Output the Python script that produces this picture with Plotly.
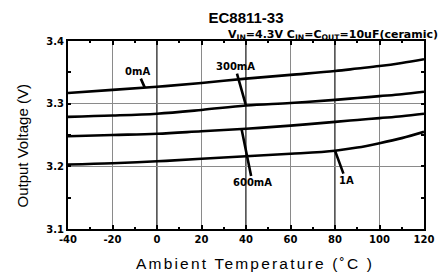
import plotly.graph_objects as go

temps = [-40, -20, 0, 20, 40, 60, 80, 90, 100, 110, 120]
v_0mA = [3.317, 3.322, 3.327, 3.333, 3.340, 3.346, 3.352, 3.356, 3.360, 3.365, 3.371]
v_300mA = [3.279, 3.281, 3.284, 3.290, 3.297, 3.301, 3.306, 3.309, 3.312, 3.315, 3.319]
v_600mA = [3.248, 3.250, 3.252, 3.256, 3.260, 3.265, 3.271, 3.274, 3.277, 3.280, 3.284]
v_1A = [3.203, 3.205, 3.208, 3.212, 3.216, 3.220, 3.225, 3.230, 3.237, 3.245, 3.255]

x_tickvals = [-40, -20, 0, 20, 40, 60, 80, 100, 120]
x_ticktext = ["-40", "-20", "0", "20", "40", "60", "80", "100", "120"]

series = [("0mA", v_0mA), ("300mA", v_300mA), ("600mA", v_600mA), ("1A", v_1A)]

# series name, temperature the arrow touches, label offset (px) of the text
labels = [
    ("0mA", -5.5, -7, -16),
    ("300mA", 40, -11, -39),
    ("600mA", 38, 11, 54),
    ("1A", 80, 11, 30),
]

fig = go.Figure()
for name, vals in series:
    fig.add_trace(go.Scatter(x=temps, y=vals, mode="lines", name=name,
                             line=dict(color="black", width=2.6, shape="spline"),
                             showlegend=False))

def interp(xs, ys, x):
    for i in range(len(xs) - 1):
        if xs[i] <= x <= xs[i + 1]:
            t = (x - xs[i]) / (xs[i + 1] - xs[i])
            return ys[i] + t * (ys[i + 1] - ys[i])
    return ys[-1]

font = "Liberation Sans, Arial, sans-serif"
bold_font = "DejaVu Sans, sans-serif"
lookup = dict(series)
for name, tx, ax, ay in labels:
    ty = interp(temps, lookup[name], tx)
    fig.add_annotation(x=tx, y=ty, ax=ax, ay=ay, text="<b>" + name + "</b>", showarrow=True,
                       arrowhead=0, arrowwidth=2.6, arrowcolor="black", standoff=0,
                       font=dict(family=bold_font, size=10, color="black"))

# darker vertical gridlines
for gx in [0, 40, 80]:
    fig.add_shape(type="line", x0=gx, x1=gx, y0=3.1, y1=3.4, xref="x", yref="y",
                  line=dict(color="black", width=1.3), layer="below")

fig.update_layout(
    width=445, height=275,
    margin=dict(l=68, r=11, t=41, b=46),
    paper_bgcolor="white", plot_bgcolor="white",
    font=dict(family=font, color="black"),
    title=dict(text="<b>EC8811-33</b>", xref="paper", x=0.5, xanchor="center",
               yref="container", y=0.935, yanchor="middle",
               font=dict(size=15, family=font, color="black")),
    xaxis=dict(range=[-40, 120], tickvals=x_tickvals, ticktext=x_ticktext,
               showgrid=True, gridcolor="#8a8a8a",
               gridwidth=1, showline=True, linecolor="black", linewidth=2, mirror="ticks",
               ticks="inside", ticklen=4, tickwidth=2, tickcolor="black",
               minor=dict(dtick=10, tick0=-40, ticks="inside", ticklen=2, tickwidth=1.5, tickcolor="black", showgrid=False),
               tickfont=dict(size=10, family=bold_font, weight="bold", color="black"), zeroline=False,
               ticklabeloverflow="allow"),
    yaxis=dict(range=[3.1, 3.4], dtick=0.1, tick0=3.1, showgrid=True, gridcolor="#8a8a8a",
               gridwidth=1.3, showline=True, linecolor="black", linewidth=2, mirror="ticks",
               ticks="inside", ticklen=3, tickwidth=1.5, tickcolor="black", tickformat=".1f",
               minor=dict(dtick=0.05, ticks="inside", ticklen=3, tickwidth=1.5, tickcolor="black", showgrid=False),
               tickfont=dict(size=10, family=bold_font, weight="bold", color="black"), zeroline=False),
)

# axis titles placed as annotations to match the reference offsets
fig.add_annotation(xref="paper", yref="paper", x=0.525, y=-0.186, xanchor="center", yanchor="middle",
                   text="<span style='letter-spacing:2.2px'>Ambient Temperature (˚C )</span>",
                   showarrow=False, font=dict(size=15.5, family=font, color="black"))
fig.add_annotation(xref="paper", yref="paper", x=-0.128, y=0.441, xanchor="center", yanchor="middle",
                   text="Output Voltage (V)", textangle=-90,
                   showarrow=False, font=dict(size=15, family=font, color="black"))

fig.add_annotation(xref="paper", yref="paper", x=1.045, y=1.0, xanchor="right", yanchor="bottom",
                   text="V<sub>IN</sub>=4.3V C<sub>IN</sub>=C<sub>OUT</sub>=10uF(ceramic)",
                   showarrow=False, font=dict(size=11, family=bold_font, weight="bold", color="black"),
                   yshift=-3)

fig.write_html("out.html", config={"displayModeBar": False},
               post_script="document.body.style.margin='0';")
